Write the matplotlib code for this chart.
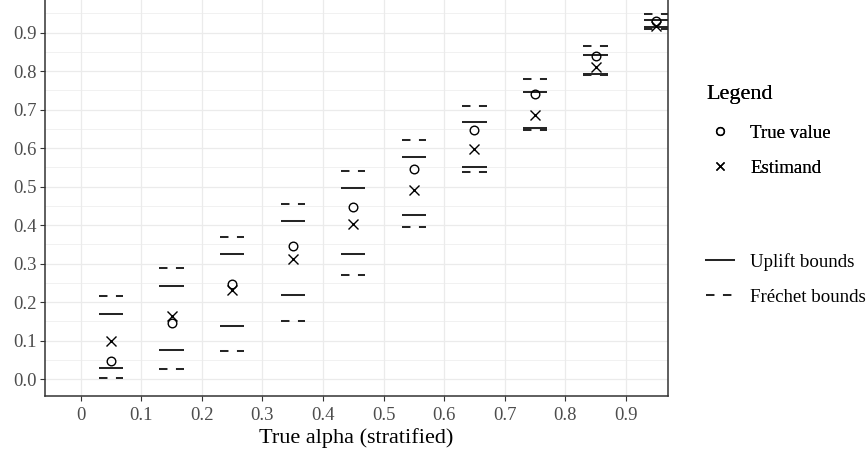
import matplotlib
matplotlib.use("Agg")
import matplotlib.pyplot as plt
from matplotlib.lines import Line2D
import numpy as np

plt.rcParams['font.family'] = ['Liberation Serif', 'DejaVu Serif']
plt.rcParams['lines.scale_dashes'] = False

# strata midpoints of true alpha
alpha = [0.05, 0.15, 0.25, 0.35, 0.45, 0.55, 0.65, 0.75, 0.85, 0.95]

true_value = [0.048, 0.147, 0.247, 0.346, 0.448, 0.545, 0.648, 0.741, 0.840, 0.931]
estimand = [0.100, 0.163, 0.232, 0.312, 0.403, 0.492, 0.597, 0.686, 0.810, 0.918]

uplift_lo = [0.028, 0.075, 0.137, 0.218, 0.324, 0.426, 0.552, 0.653, 0.794, 0.915]
uplift_hi = [0.169, 0.242, 0.324, 0.410, 0.496, 0.578, 0.669, 0.745, 0.842, 0.933]
frechet_lo = [0.003, 0.026, 0.074, 0.151, 0.271, 0.396, 0.538, 0.646, 0.789, 0.910]
frechet_hi = [0.215, 0.288, 0.370, 0.456, 0.542, 0.620, 0.709, 0.779, 0.865, 0.948]

x_ticks = [0, 0.1, 0.2, 0.3, 0.4, 0.5, 0.6, 0.7, 0.8, 0.9]
x_labels = ["0", "0.1", "0.2", "0.3", "0.4", "0.5", "0.6", "0.7", "0.8", "0.9"]
y_ticks = [0.0, 0.1, 0.2, 0.3, 0.4, 0.5, 0.6, 0.7, 0.8, 0.9]

W, H = 868, 455
fig = plt.figure(figsize=(W / 100, H / 100), dpi=100)
ax = fig.add_axes([45 / W, (H - 395.7) / H, (668.3 - 45) / W, 395.7 / H])

a = np.array(alpha)
half = 0.02
seg_col = '#262626'
dash = (0, (6.1, 6.1))

ax.hlines(uplift_lo, a - half, a + half, colors=seg_col, linewidth=1.45, zorder=3)
ax.hlines(uplift_hi, a - half, a + half, colors=seg_col, linewidth=1.45, zorder=3)
ax.hlines(frechet_lo, a - half, a + half, colors=seg_col, linewidth=1.45,
          linestyles=[dash], zorder=3)
ax.hlines(frechet_hi, a - half, a + half, colors=seg_col, linewidth=1.45,
          linestyles=[dash], zorder=3)

ax.plot(alpha, true_value, linestyle='none', marker='o', ms=6.2, mfc='none',
        mec='black', mew=1.0, zorder=4)
ax.plot(alpha, estimand, linestyle='none', marker='x', ms=6.5, mec='black',
        mew=1.0, zorder=4)

ax.set_xlim(-0.059, 0.970)
ax.set_ylim(-0.043, 0.985)

ax.set_xticks(x_ticks)
ax.set_xticklabels(x_labels)
ax.set_yticks(y_ticks)
ax.set_yticklabels([f"{v:.1f}" for v in y_ticks])
ax.set_yticks(np.array(y_ticks) + 0.05, minor=True)

ax.grid(True, which='major', color='#EBEBEB', linewidth=0.9, zorder=0)
ax.grid(True, which='minor', axis='y', color='#EBEBEB', linewidth=0.5, zorder=0)
ax.set_axisbelow(True)
ax.tick_params(which='minor', length=0)
ax.tick_params(which='major', length=3.6, width=0.8, color='#333333',
               labelcolor='#4D4D4D', labelsize=13.5, pad=2.5)
ax.tick_params(axis='x', which='major', pad=4.2)

for side in ['left', 'right', 'bottom']:
    ax.spines[side].set_color('#333333')
    ax.spines[side].set_linewidth(1.1)
ax.spines['top'].set_visible(False)

ax.set_xlabel("True alpha (stratified)", fontsize=16, color='black', labelpad=3.5)

# legends: point shapes and bound line types
shape_handles = [
    Line2D([], [], linestyle='none', marker='o', ms=5.6, mfc='none', mec='black', mew=1.0),
    Line2D([], [], linestyle='none', marker='x', ms=6.0, mec='black', mew=1.0),
]
leg1 = fig.legend(shape_handles, ["True value", "Estimand"], loc='upper left',
                  bbox_to_anchor=(706 / W, 1 - 85 / H), frameon=False,
                  title="Legend", title_fontsize=16, fontsize=13.6,
                  alignment='left', handlelength=1.5, handletextpad=0.85,
                  labelspacing=0.95, borderaxespad=0, borderpad=0)
leg1._legend_box.sep = 14.7

line_handles = [
    Line2D([], [], color=seg_col, linewidth=1.45),
    Line2D([], [], color=seg_col, linewidth=1.45, linestyle=dash),
]
leg2 = fig.legend(line_handles, ["Uplift bounds", "Fréchet bounds"], loc='upper left',
                  bbox_to_anchor=(706 / W, 1 - 253 / H), frameon=False,
                  fontsize=13.6, handlelength=1.5, handletextpad=0.85,
                  labelspacing=0.95, borderaxespad=0, borderpad=0)
fig.add_artist(leg1)

fig.savefig("out.png", dpi=100)
